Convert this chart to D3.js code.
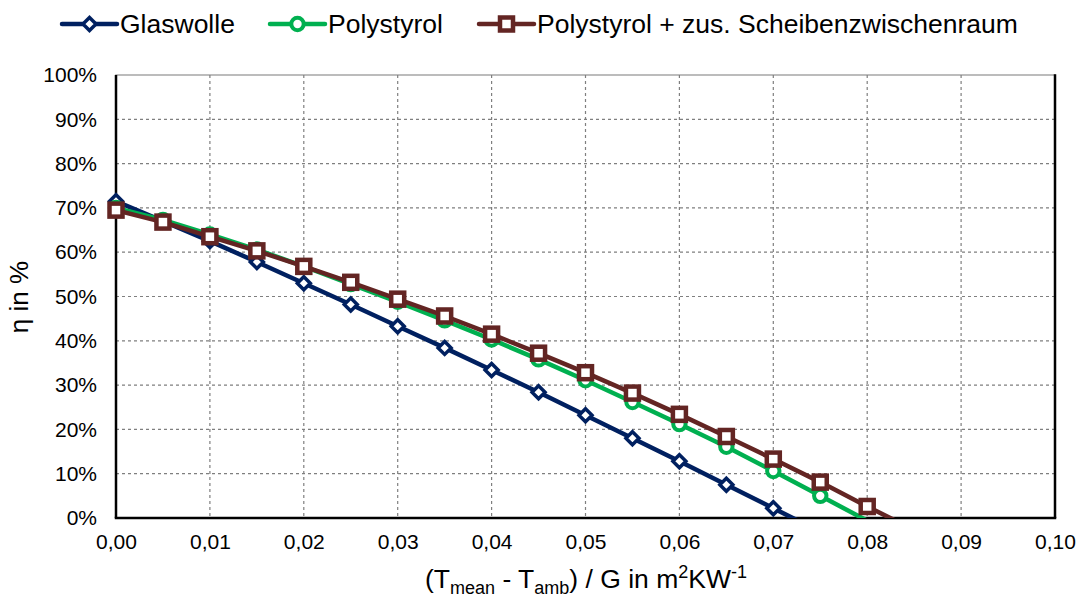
<!DOCTYPE html>
<meta charset="utf-8">
<style>
  body { margin: 0; background: #fff; }
  text { font-family: "Liberation Sans", Arial, sans-serif; fill: #000; }
  .grid line { stroke: #7f7f7f; stroke-width: 1.2; stroke-dasharray: 3,3; }
</style>
<body>
<div id="chart"></div>
<script src="https://d3js.org/d3.v7.min.js"></script>
<script>
  // x values in m^2 K/W, efficiency in %
  var xValues = [0, 0.005, 0.01, 0.015, 0.02, 0.025, 0.03, 0.035, 0.04, 0.045,
                 0.05, 0.055, 0.06, 0.065, 0.07, 0.075, 0.08, 0.085];
  var glaswolle = [71.5, 67.0, 62.5, 57.8, 53.0, 48.2, 43.3, 38.4, 33.4, 28.4,
                   23.2, 18.0, 12.8, 7.5, 2.2, -3.1];
  var polystyrol = [70.0, 67.3, 64.0, 60.6, 56.8, 52.8, 48.8, 44.6, 40.3, 35.8,
                    31.1, 26.2, 21.2, 16.1, 10.6, 5.0, -0.6];
  var scheibe = [69.5, 66.8, 63.5, 60.3, 56.8, 53.2, 49.4, 45.6, 41.5, 37.2,
                 32.8, 28.2, 23.4, 18.4, 13.3, 8.1, 2.6, -2.7];
  var xTicks = [0, 0.01, 0.02, 0.03, 0.04, 0.05, 0.06, 0.07, 0.08, 0.09, 0.10];
  var yTicks = [0, 10, 20, 30, 40, 50, 60, 70, 80, 90, 100];

  var series = [
    { name: "Glaswolle", values: glaswolle, color: "#002060", marker: "diamond" },
    { name: "Polystyrol", values: polystyrol, color: "#00b050", marker: "circle" },
    { name: "Polystyrol + zus. Scheibenzwischenraum", values: scheibe, color: "#632523", marker: "square" }
  ];

  var W = 1082, H = 599;
  var pL = 116, pR = 1055, pT = 75, pB = 518;

  var svg = d3.select("#chart").append("svg")
    .attr("width", W).attr("height", H);

  var x = d3.scaleLinear().domain([0, 0.10]).range([pL, pR]);
  var y = d3.scaleLinear().domain([0, 100]).range([pB, pT]);

  svg.append("defs").append("clipPath").attr("id", "plot")
    .append("rect")
    .attr("x", pL).attr("y", pT)
    .attr("width", pR - pL).attr("height", pB - pT);

  // plot frame (top border gray)
  svg.append("rect")
    .attr("x", pL).attr("y", pT)
    .attr("width", pR - pL).attr("height", pB - pT)
    .attr("fill", "#fff").attr("stroke", "#a6a6a6").attr("stroke-width", 1.5);

  var grid = svg.append("g").attr("class", "grid");
  grid.selectAll(".gx").data(xTicks.slice(1, -1)).enter().append("line")
    .attr("x1", function (d) { return x(d); }).attr("x2", function (d) { return x(d); })
    .attr("y1", pT).attr("y2", pB);
  grid.selectAll(".gy").data(yTicks.slice(1, -1)).enter().append("line")
    .attr("x1", pL).attr("x2", pR)
    .attr("y1", function (d) { return y(d); }).attr("y2", function (d) { return y(d); });

  // axes
  var fmtX = function (d) { return d3.format(".2f")(d).replace(".", ","); };
  var xAxis = svg.append("g")
    .attr("transform", "translate(0," + pB + ")")
    .call(d3.axisBottom(x).tickValues(xTicks).tickFormat(fmtX).tickSize(0).tickPadding(16));
  var yAxis = svg.append("g")
    .attr("transform", "translate(" + pL + ",0)")
    .call(d3.axisLeft(y).tickValues(yTicks).tickFormat(function (d) { return d + "%"; })
      .tickSize(0).tickPadding(19));
  [xAxis, yAxis].forEach(function (a) {
    a.select(".domain").remove();
    a.selectAll("text").style("font-size", "21px").attr("fill", "#000")
      .style("font-family", "'Liberation Sans', Arial, sans-serif");
  });

  svg.append("line").attr("x1", pL).attr("x2", pL).attr("y1", pT).attr("y2", pB)
    .attr("stroke", "#000").attr("stroke-width", 2.5);
  svg.append("line").attr("x1", pR).attr("x2", pR).attr("y1", pT - 0.75).attr("y2", pB)
    .attr("stroke", "#000").attr("stroke-width", 2.5);
  svg.append("line").attr("x1", pL - 1.25).attr("x2", pR + 1.25).attr("y1", pB).attr("y2", pB)
    .attr("stroke", "#000").attr("stroke-width", 2.5);

  function drawMarker(g, type, color) {
    if (type === "diamond") {
      g.append("path").attr("d", "M0,-6.5L6.5,0L0,6.5L-6.5,0Z")
        .attr("fill", "#fff").attr("stroke", color).attr("stroke-width", 3.5);
    } else if (type === "circle") {
      g.append("circle").attr("r", 6.2)
        .attr("fill", "#fff").attr("stroke", color).attr("stroke-width", 4);
    } else {
      g.append("rect").attr("x", -6.5).attr("y", -6.5).attr("width", 13).attr("height", 13)
        .attr("fill", "#fff").attr("stroke", color).attr("stroke-width", 4.5);
    }
  }

  var line = d3.line()
    .x(function (d, i) { return x(xValues[i]); })
    .y(function (d) { return y(d); });

  series.forEach(function (s) {
    var g = svg.append("g");
    g.append("path")
      .attr("clip-path", "url(#plot)")
      .attr("d", line(s.values))
      .attr("fill", "none").attr("stroke", s.color).attr("stroke-width", 4.5)
      .attr("stroke-linejoin", "round");
    s.values.forEach(function (v, i) {
      if (v < 0) return;
      var m = g.append("g").attr("transform", "translate(" + x(xValues[i]) + "," + y(v) + ")");
      drawMarker(m, s.marker, s.color);
    });
  });

  // legend
  var legendX = [62, 270, 479];
  series.forEach(function (s, i) {
    var g = svg.append("g").attr("transform", "translate(" + legendX[i] + ",24)");
    g.append("line").attr("x1", 0).attr("x2", 55)
      .attr("stroke", s.color).attr("stroke-width", 4.5).attr("stroke-linecap", "round");
    var m = g.append("g").attr("transform", "translate(27.5,0)");
    drawMarker(m, s.marker, s.color);
    g.append("text").attr("x", 58).attr("y", 9)
      .style("font-size", "26.5px").text(s.name);
  });

  // axis titles
  svg.append("text")
    .attr("transform", "translate(28,297) rotate(-90)")
    .attr("text-anchor", "middle")
    .style("font-size", "26px")
    .text("η in %");

  var xt = svg.append("text")
    .attr("x", 586).attr("y", 588)
    .attr("text-anchor", "middle")
    .style("font-size", "26.5px");
  xt.append("tspan").text("(T");
  xt.append("tspan").attr("dy", 6).style("font-size", "18px").text("mean");
  xt.append("tspan").attr("dy", -6).text(" - T");
  xt.append("tspan").attr("dy", 6).style("font-size", "18px").text("amb");
  xt.append("tspan").attr("dy", -6).text(") / G in m");
  xt.append("tspan").attr("dy", -10).style("font-size", "18px").text("2");
  xt.append("tspan").attr("dy", 10).text("KW");
  xt.append("tspan").attr("dy", -10).style("font-size", "18px").text("-1");
</script>
</body>
